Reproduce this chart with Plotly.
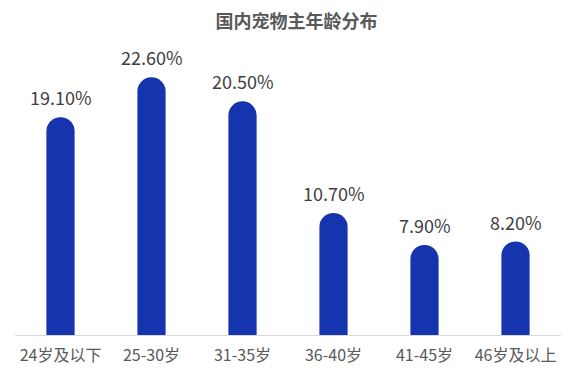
import plotly.graph_objects as go

categories = ["24岁及以下", "25-30岁", "31-35岁", "36-40岁", "41-45岁", "46岁及以上"]
values = [19.1, 22.6, 20.5, 10.7, 7.9, 8.2]
labels = [f"{v:.2f}%" for v in values]
title_text = "国内宠物主年龄分布"

BAR_COLOR = "#1534AD"
TEXT_COLOR = "#595959"
VALUE_COLOR = "#404040"
FONT = "Noto Sans CJK SC"

fig = go.Figure(
    go.Bar(
        x=categories,
        y=values,
        marker=dict(color=BAR_COLOR, cornerradius="50%", line=dict(width=0)),
        width=0.31,
        hoverinfo="skip",
    )
)

for c, v, t in zip(categories, values, labels):
    fig.add_annotation(
        x=c, y=v, text=t, showarrow=False,
        yanchor="bottom", yshift=5,
        font=dict(family=FONT, size=18, color=VALUE_COLOR),
    )

fig.update_layout(
    width=577,
    height=375,
    margin=dict(l=7, r=24, t=42, b=48),
    paper_bgcolor="white",
    plot_bgcolor="white",
    showlegend=False,
    title=dict(
        text=f"<b>{title_text}</b>",
        x=0.5,
        xanchor="center",
        y=0.963,
        yanchor="middle",
        font=dict(family=FONT, size=18, color=TEXT_COLOR),
    ),
    xaxis=dict(
        showline=True,
        linecolor="#D9D9D9",
        linewidth=1,
        ticks="",
        ticklabelstandoff=6,
        tickfont=dict(family=FONT, size=16, color=TEXT_COLOR),
        showgrid=False,
    ),
    yaxis=dict(
        range=[0, 25],
        visible=False,
        showgrid=False,
        zeroline=False,
    ),
)

fig.write_html("out.html")
